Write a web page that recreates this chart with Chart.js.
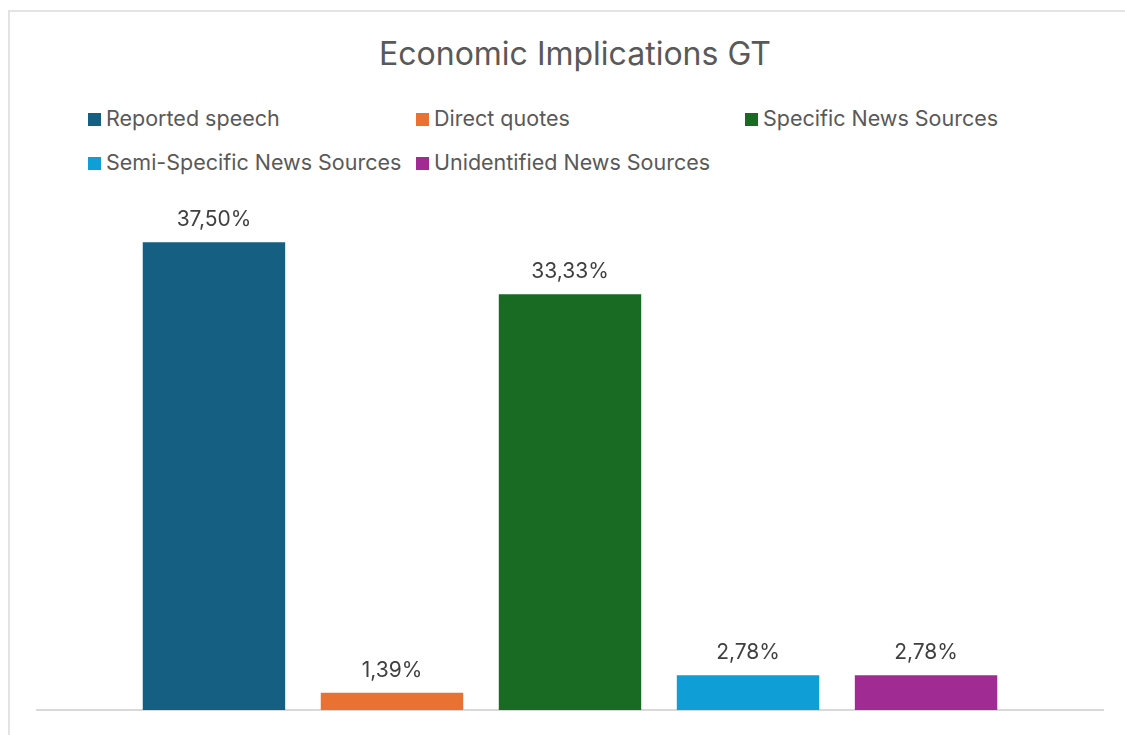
<!DOCTYPE html>
<html>
<head>
<meta charset="utf-8">
<script src="https://cdn.jsdelivr.net/npm/chart.js@4"></script>
<style>
    html, body { margin: 0; padding: 0; background: #fff; overflow: hidden; }
    body { width: 1125px; height: 735px; position: relative; font-family: Inter, "Liberation Sans", sans-serif; }
    #frame {
        position: absolute; left: 8px; top: 10px; width: 1200px; height: 800px;
        border: 2px solid #e3e3e3; box-sizing: border-box;
    }
    #title {
        position: absolute; left: 0; width: 1150px; top: 34px; text-align: center;
        font-size: 32px; color: #595959; line-height: 40px;
    }
    .item { position: absolute; font-size: 21.5px; color: #595959; line-height: 24px; white-space: nowrap; }
    .item span { display: inline-block; width: 13px; height: 13px; margin-right: 5px; vertical-align: 0px; }
    #chart { position: absolute; left: 0; top: 0; }
</style>
</head>
<body>
<div id="frame"></div>
<div id="title">Economic Implications GT</div>
<div id="legend"></div>
<canvas id="chart" width="1125" height="735"></canvas>
<script>
// series names, values (%) and colours
const seriesNames = ['Reported speech', 'Direct quotes', 'Specific News Sources', 'Semi-Specific News Sources', 'Unidentified News Sources'];
const seriesValues = [37.50, 1.39, 33.33, 2.78, 2.78];
const seriesColors = ['#156082', '#E97132', '#196B24', '#0F9ED5', '#A02B93'];

// legend laid out as a 3-column grid
const legendCols = [88, 416, 745];
const legendRows = [106, 150];
let legend = document.getElementById('legend');
seriesNames.forEach((name, i) => {
    let el = document.createElement('div');
    el.className = 'item';
    el.style.left = legendCols[i % 3] + 'px';
    el.style.top = legendRows[Math.floor(i / 3)] + 'px';
    el.innerHTML = '<span style="background:' + seriesColors[i] + '"></span>' + name;
    legend.appendChild(el);
});

// value labels above each bar
const valueLabels = {
    id: 'valueLabels',
    afterDatasetsDraw(chart) {
        let ctx = chart.ctx;
        ctx.save();
        ctx.font = '21px Inter, "Liberation Sans", sans-serif';
        ctx.fillStyle = '#404040';
        ctx.textAlign = 'center';
        ctx.textBaseline = 'alphabetic';
        chart.data.datasets.forEach((ds, i) => {
            let bar = chart.getDatasetMeta(i).data[0];
            let txt = ds.data[0].toFixed(2).replace('.', ',') + '%';
            ctx.fillText(txt, bar.x, bar.y - 16);
        });
        ctx.restore();
    }
};

new Chart(document.getElementById('chart'), {
    type: 'bar',
    data: {
        labels: [''],
        datasets: seriesNames.map((name, i) => ({
            label: name,
            data: [seriesValues[i]],
            backgroundColor: seriesColors[i],
            barPercentage: 0.8,
            categoryPercentage: 0.835
        }))
    },
    options: {
        responsive: false,
        animation: false,
        layout: { padding: { left: 37, right: 22, top: 211, bottom: 17 } },
        plugins: {
            legend: { display: false },
            tooltip: { enabled: false }
        },
        scales: {
            x: {
                grid: { display: false },
                ticks: { display: false },
                border: { color: '#d9d9d9', width: 2 }
            },
            y: { display: false, min: 0, max: 40 }
        }
    },
    plugins: [valueLabels]
});
</script>
</body>
</html>
